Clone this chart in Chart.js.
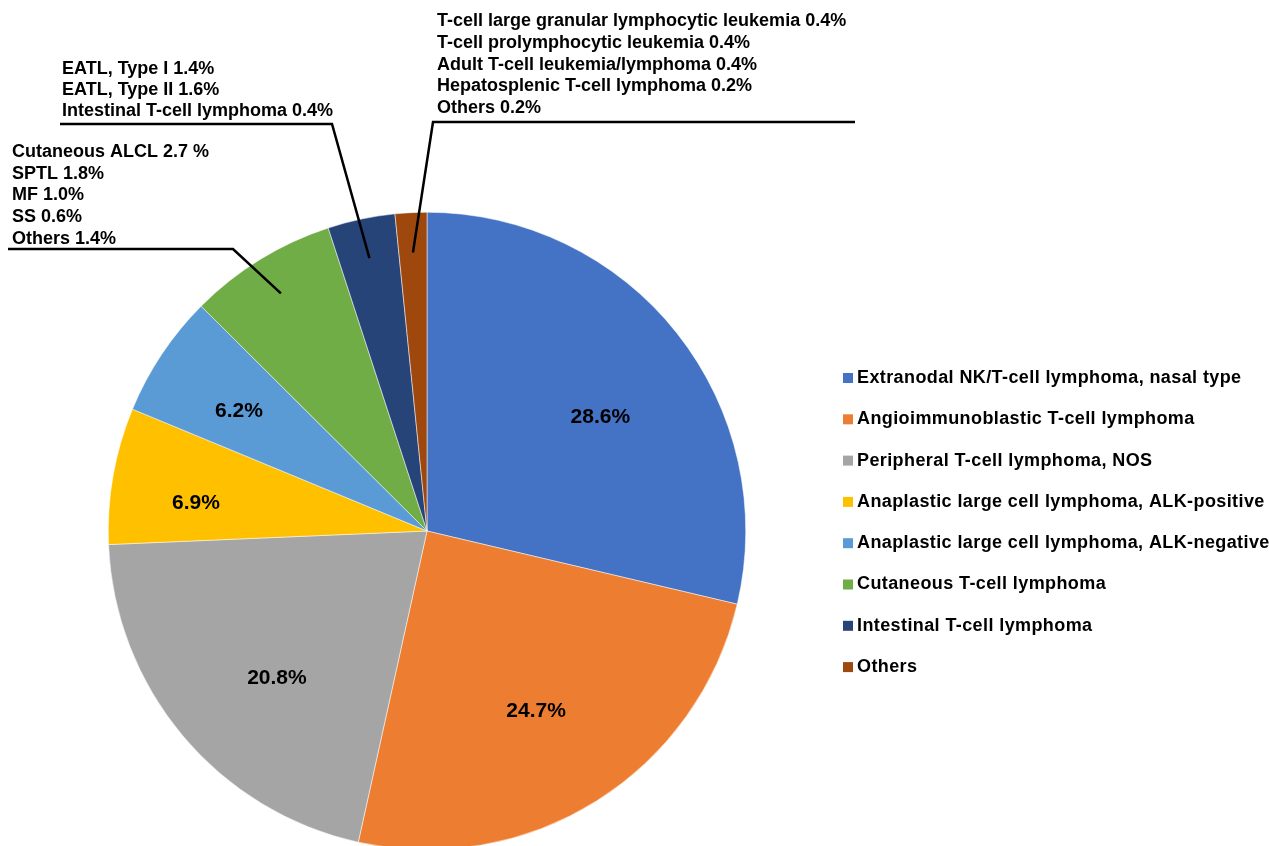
<!DOCTYPE html>
<html>
<head>
<meta charset="utf-8">
<script src="https://cdn.jsdelivr.net/npm/chart.js@4.4.1/dist/chart.umd.min.js"></script>
<style>
  html, body { margin: 0; padding: 0; background: #fff; overflow: hidden; }
  #wrap { position: relative; width: 1269px; height: 860px; }
</style>
</head>
<body>
<div id="wrap"><canvas id="myChart"></canvas></div>
<script>
// Subtypes (one slice each)
var categories = [
  "Extranodal NK/T-cell lymphoma, nasal type",
  "Angioimmunoblastic T-cell lymphoma",
  "Peripheral T-cell lymphoma, NOS",
  "Anaplastic large cell lymphoma, ALK-positive",
  "Anaplastic large cell lymphoma, ALK-negative",
  "Cutaneous T-cell lymphoma",
  "Intestinal T-cell lymphoma",
  "Others"
];
var shares = [28.6, 24.7, 20.8, 6.9, 6.2, 7.5, 3.4, 1.6];
var sliceColors = ["#4472C4", "#ED7D31", "#A5A5A5", "#FFC000", "#5B9BD5", "#70AD47", "#264478", "#9E480E"];

// Breakdown of the three small slices
var cutaneousItems = ["Cutaneous ALCL", "SPTL", "MF", "SS", "Others"];
var cutaneousShares = [2.7, 1.8, 1.0, 0.6, 1.4];
var intestinalItems = ["EATL, Type I", "EATL, Type II", "Intestinal T-cell lymphoma"];
var intestinalShares = [1.4, 1.6, 0.4];
var otherItems = [
  "T-cell large granular lymphocytic leukemia",
  "T-cell prolymphocytic leukemia",
  "Adult T-cell leukemia/lymphoma",
  "Hepatosplenic T-cell lymphoma",
  "Others"
];
var otherShares = [0.4, 0.4, 0.4, 0.2, 0.2];

var FONT = '"Liberation Sans", Arial, sans-serif';

// callout boxes: text block, underline, and which end of the underline goes to the slice
var callouts = [
  { slice: 5, names: cutaneousItems, values: cutaneousShares, gap: [" %", "%", "%", "%", "%"],
    x: 12, y: 152, step: 21.7, lineY: 249, x0: 8, x1: 233, elbow: 233 },
  { slice: 6, names: intestinalItems, values: intestinalShares,
    x: 62, y: 69, step: 21, lineY: 124, x0: 60, x1: 332, elbow: 332 },
  { slice: 7, names: otherItems, values: otherShares,
    x: 437, y: 21, step: 21.8, lineY: 122, x0: 433, x1: 855, elbow: 433 }
];
// where the percentage sits inside each big slice: [share of the sweep, share of the radius]
var insideLabels = { 0: [0.55, 0.65], 1: [0.51, 0.66], 2: [0.44, 0.66], 3: [0.37, 0.73], 4: [0.45, 0.70] };

function pointOnSlice(arc, along, frac) {
  var p = arc.getProps(["x", "y", "startAngle", "endAngle", "outerRadius"], true);
  var a = p.startAngle + (p.endAngle - p.startAngle) * along;
  return { x: p.x + Math.cos(a) * p.outerRadius * frac, y: p.y + Math.sin(a) * p.outerRadius * frac };
}

var annotations = {
  id: "annotations",
  afterDatasetsDraw: function (chart) {
    var ctx = chart.ctx;
    var arcs = chart.getDatasetMeta(0).data;
    ctx.save();
    ctx.fillStyle = "#000";

    // percentages inside the big slices
    ctx.font = "bold 21px " + FONT;
    ctx.textAlign = "center";
    ctx.textBaseline = "middle";
    Object.keys(insideLabels).forEach(function (i) {
      var pos = insideLabels[i];
      var pt = pointOnSlice(arcs[i], pos[0], pos[1]);
      ctx.fillText(shares[i].toFixed(1) + "%", pt.x, pt.y);
    });

    // callouts for the small slices
    ctx.font = "bold 18px " + FONT;
    ctx.textAlign = "left";
    ctx.strokeStyle = "#000";
    ctx.lineWidth = 2.5;
    callouts.forEach(function (c) {
      c.names.forEach(function (name, k) {
        var suffix = c.gap ? c.gap[k] : "%";
        ctx.fillText(name + " " + c.values[k].toFixed(1) + suffix, c.x, c.y + k * c.step);
      });
      var tip = pointOnSlice(arcs[c.slice], 0.5, 0.875);
      ctx.beginPath();
      ctx.moveTo(c.elbow === c.x0 ? c.x1 : c.x0, c.lineY);
      ctx.lineTo(c.elbow, c.lineY);
      ctx.lineTo(tip.x, tip.y);
      ctx.stroke();
    });

    // legend
    ctx.font = "bold 18px " + FONT;
    ctx.letterSpacing = "0.4px";
    categories.forEach(function (name, i) {
      var y = 378 + i * 41.3;
      ctx.fillStyle = sliceColors[i];
      ctx.fillRect(843, y - 5, 10, 10);
      ctx.fillStyle = "#000";
      ctx.fillText(name, 857, y);
    });
    ctx.restore();
  }
};

var ctx = document.getElementById("myChart").getContext("2d");
var myChart = new Chart(ctx, {
  type: "pie",
  data: {
    labels: categories,
    datasets: [
      {
        data: shares,
        backgroundColor: sliceColors,
        borderColor: "#ffffff",
        borderWidth: 0.5,
      },
    ],
  },
  options: {
    responsive: true,
    maintainAspectRatio: false,
    animation: false,
    layout: {
      padding: { left: 108, right: 523, top: 212, bottom: 10 },
    },
    plugins: {
      legend: { display: false },
      tooltip: { enabled: false },
    },
  },
  plugins: [annotations],
});
</script>
</body>
</html>
